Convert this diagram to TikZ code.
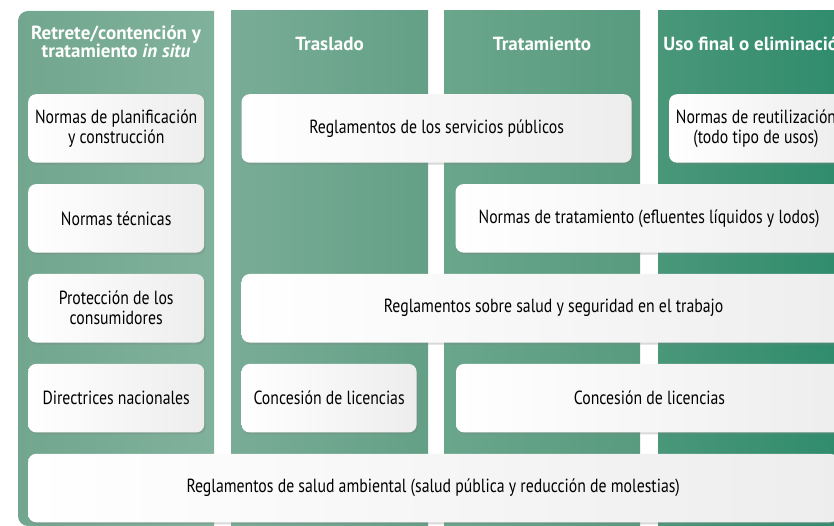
\documentclass[tikz,border=0pt]{standalone}
\usepackage{fontspec}
\setmainfont{PT Sans}[FakeStretch=0.83]
\newfontfamily\cabecera{PT Sans}
\usetikzlibrary{positioning,shadows}
\definecolor{verdeA}{RGB}{114,166,142}
\definecolor{verdeB}{RGB}{128,177,156}
\definecolor{verdeC}{RGB}{121,172,151}
\definecolor{verdeD}{RGB}{99,160,134}
\definecolor{verdeE}{RGB}{106,166,140}
\definecolor{verdeF}{RGB}{88,155,127}
\definecolor{verdeG}{RGB}{74,151,122}
\definecolor{verdeH}{RGB}{45,139,107}
\tikzstyle{titulo}=[
	text=white,
	align=center,
	inner sep=0,
	font=\cabecera\bfseries\fontsize{19}{18}\selectfont]
\tikzstyle{caja}=[
	rectangle,
	rounded corners=8pt,
	align=center,
	inner sep=2,
	minimum height=68.5,
	left color=white,
	right color=black!7,
	text=black,
	font=\fontsize{19}{20}\selectfont,
	drop shadow={opacity=.3,shadow xshift=1.5pt,shadow yshift=-2pt}]
\begin{document}
\begin{tikzpicture}[x=1pt,y=-1pt,>=latex]
	\useasboundingbox (0,0) rectangle (834,526);
	\clip (0,0) rectangle (834,526);
	\begin{scope}
		% columnas
		\shade[left color=verdeA,right color=verdeB] (116,11) [rounded corners=10pt]-- (18,11) -- (18,526) -- (116,526) [sharp corners]-- (214,526) -- (214,11) -- cycle;
		\shade[left color=verdeC,right color=verdeD] (231,11) rectangle (428,526);
		\shade[left color=verdeE,right color=verdeF] (444,11) rectangle (640,526);
		\shade[left color=verdeG,right color=verdeH] (658,11) rectangle (854,526);
	\end{scope}
	\begin{scope}
		\node[titulo]	(hdret)	at (116,41.5)	{Retrete/contención y\\tratamiento \textit{in situ}};
		\node[titulo]	(hdtras)	at (329.5,44)	{Traslado};
		\node[titulo]	(hdtrat)	at (542,44)	{Tratamiento};
		\node[titulo]	(hduso)	at (756,44)	{Uso final o eliminación};
	\end{scope}
	\begin{scope}[node distance=21pt]
		\node[caja,minimum width=176,anchor=north west]	(plan)	at (28,94)	{Normas de planificación\\y construcción};
		\node[caja,minimum width=390]	(serv)	[right=37pt of plan]	{Reglamentos de los servicios públicos};
		\node[caja,minimum width=174]	(reut)	[right=37pt of serv]	{Normas de reutilización\\(todo tipo de usos)};
		\node[caja,minimum width=176]	(tecn)	[below=of plan]	{Normas técnicas};
		\node[caja,minimum width=387]	(trat)	[right=251pt of tecn]	{Normas de tratamiento (efluentes líquidos y lodos)};
		\node[caja,minimum width=176]	(cons)	[below=of tecn]	{Protección de los\\consumidores};
		\node[caja,minimum width=624]	(trab)	[right=37pt of cons]	{Reglamentos sobre salud y seguridad en el trabajo};
		\node[caja,minimum width=176]	(direc)	[below=of cons]	{Directrices nacionales};
		\node[caja,minimum width=175]	(lic)	[right=37pt of direc]	{Concesión de licencias};
		\node[caja,minimum width=387]	(lictrat)	[right=39pt of lic]	{Concesión de licencias};
		\node[caja,minimum width=810,below=of direc.south west,anchor=north west]	(amb)	{Reglamentos de salud ambiental (salud pública y reducción de molestias)};
	\end{scope}
\end{tikzpicture}
\end{document}
